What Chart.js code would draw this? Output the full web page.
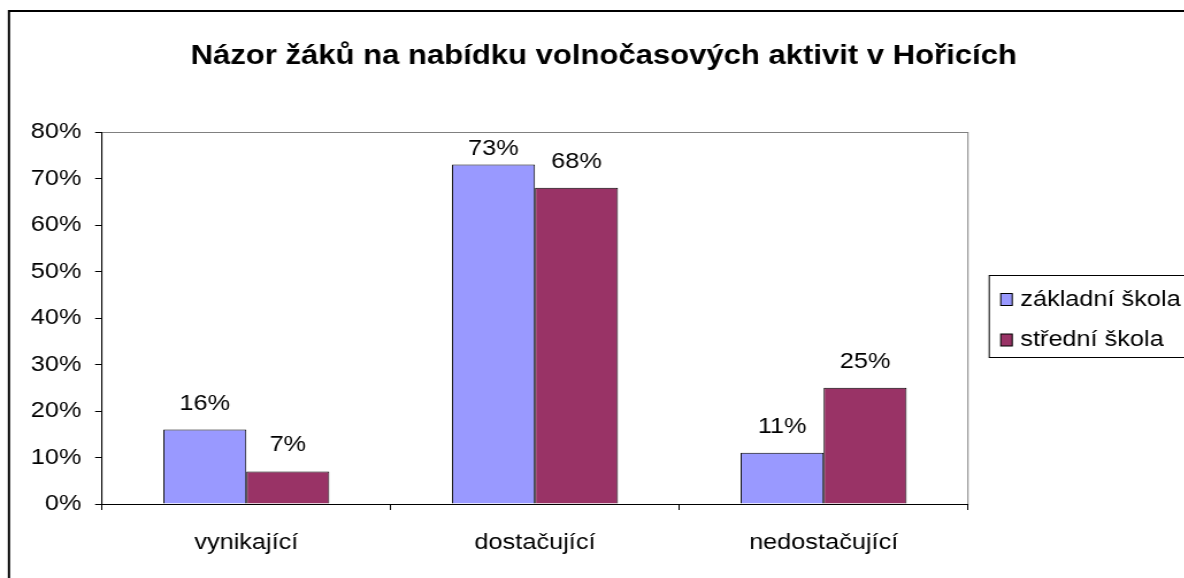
<!DOCTYPE html>
<html>
<head>
<meta charset="utf-8">
<script src="https://cdn.jsdelivr.net/npm/chart.js@4/dist/chart.umd.min.js"></script>
<style>
    html, body { margin: 0; padding: 0; background: #fff; overflow: hidden; }
    #wrap { position: absolute; left: 0; top: 0; transform: scaleX(1.15); transform-origin: 0 0; }
</style>
</head>
<body>
<div id="wrap">
    <canvas id="chart" width="1050" height="590"></canvas>
</div>
<script>
// -------------------------
// DATA
// -------------------------
const titleText = "Názor žáků na nabídku volnočasových aktivit v Hořicích";
const categories = ["vynikající", "dostačující", "nedostačující"];
const zakladni = [16, 73, 11];
const stredni = [7, 68, 25];
const seriesNames = ["základní škola", "střední škola"];
const yTicksMax = 80;

const FONT = "'Liberation Sans', Arial, sans-serif";

// -------------------------
// PLUGINS
// -------------------------

// outer frame + grey plot area border
const frame = {
    id: 'frame',
    beforeDraw(chart) {
        const ctx = chart.ctx;
        const a = chart.chartArea;
        ctx.save();
        ctx.strokeStyle = '#000';
        ctx.lineWidth = 2;
        ctx.strokeRect(7.8, 11, 3000, 3000);
        ctx.strokeStyle = '#808080';
        ctx.lineWidth = 1;
        ctx.strokeRect(a.left, a.top + 0.5, a.right - a.left, a.bottom - a.top);
        ctx.restore();
    }
};

// value labels above bars
const valueLabels = {
    id: 'valueLabels',
    afterDatasetsDraw(chart) {
        const ctx = chart.ctx;
        const top = chart.chartArea.top;
        ctx.save();
        ctx.font = '22px ' + FONT;
        ctx.fillStyle = '#000';
        ctx.textAlign = 'center';
        ctx.textBaseline = 'alphabetic';
        chart.data.datasets.forEach((ds, i) => {
            chart.getDatasetMeta(i).data.forEach((bar, j) => {
                const y = Math.max(bar.y - 20, top + 23);
                ctx.fillText(ds.data[j] + '%', bar.x, y);
            });
        });
        ctx.restore();
    }
};

// legend with a box, like Excel
const boxLegend = {
    id: 'boxLegend',
    afterDraw(chart) {
        const ctx = chart.ctx;
        const left = chart.chartArea.right + 18.5;
        const top = 275.5;
        ctx.save();
        ctx.strokeStyle = '#000';
        ctx.lineWidth = 1;
        ctx.strokeRect(left, top, 220, 82);
        ctx.font = '22px ' + FONT;
        ctx.textBaseline = 'middle';
        chart.data.datasets.forEach((ds, i) => {
            const cy = 299.5 + i * 40.5;
            ctx.fillStyle = ds.backgroundColor;
            ctx.fillRect(left + 10, cy - 6, 10, 12);
            ctx.strokeRect(left + 10, cy - 6, 10, 12);
            ctx.fillStyle = '#000';
            ctx.fillText(ds.label, left + 27, cy);
        });
        ctx.restore();
    }
};

// -------------------------
// CHART
// -------------------------
const ctx = document.getElementById('chart').getContext('2d');

new Chart(ctx, {
    type: 'bar',
    data: {
        labels: categories,
        datasets: [{
            label: seriesNames[0],
            data: zakladni,
            backgroundColor: '#9999FF',
            borderColor: '#000',
            borderWidth: 1,
            categoryPercentage: 0.575,
            barPercentage: 1
        }, {
            label: seriesNames[1],
            data: stredni,
            backgroundColor: '#993366',
            borderColor: '#000',
            borderWidth: 1,
            categoryPercentage: 0.575,
            barPercentage: 1
        }]
    },
    options: {
        responsive: false,
        animation: false,
        layout: { padding: { left: 0, right: 0, top: 0, bottom: 0 } },
        plugins: {
            title: {
                display: true,
                text: titleText,
                color: '#000',
                font: { family: FONT, size: 27, weight: 'bold' },
                padding: { top: 40, bottom: 59.6 }
            },
            legend: { display: false },
            tooltip: { enabled: false }
        },
        scales: {
            x: {
                grid: { display: true, offset: true, drawOnChartArea: false, color: '#000', tickLength: 6 },
                border: { display: true, color: '#000' },
                ticks: { color: '#000', font: { family: FONT, size: 22 }, padding: 20 },
                afterFit(s) { s.height = 86; }
            },
            y: {
                min: 0,
                max: yTicksMax,
                ticks: {
                    stepSize: 10,
                    color: '#000',
                    font: { family: FONT, size: 22 },
                    padding: 12,
                    callback: v => v + '%'
                },
                grid: { drawOnChartArea: false, color: '#000', tickLength: 6 },
                border: { display: true, color: '#000' },
                afterFit(s) { s.width = 88.7; }
            },
            // empty space on the right for the legend
            yR: {
                axis: 'y',
                position: 'right',
                grid: { display: false, drawTicks: false },
                border: { display: false },
                ticks: { display: false },
                afterFit(s) { s.width = 208.3; }
            }
        }
    },
    plugins: [frame, valueLabels, boxLegend]
});
</script>
</body>
</html>
